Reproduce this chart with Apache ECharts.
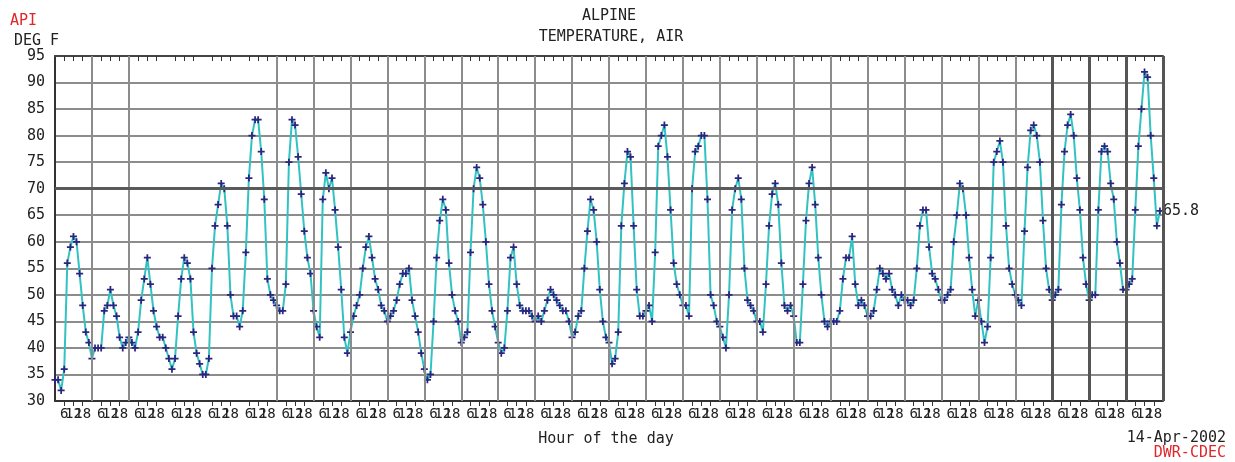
<!DOCTYPE html>
<html>
<head>
<meta charset="utf-8">
<title>ALPINE - Temperature, Air</title>
<script src="https://cdn.jsdelivr.net/npm/echarts@6/dist/echarts.min.js"></script>
<style>
  html, body { margin: 0; padding: 0; background: #fff; }
  #main { width: 1235px; height: 462px; }
</style>
</head>
<body>
<div id="main"></div>
<script>
// air temperature (deg F), one reading every 2 hours, one row per day: 00h .. 22h
const temps = [
  34, 34, 32, 36, 56, 59, 61, 60, 54, 48, 43, 41,
  38, 40, 40, 40, 47, 48, 51, 48, 46, 42, 40, 41,
  42, 41, 40, 43, 49, 53, 57, 52, 47, 44, 42, 42,
  40, 38, 36, 38, 46, 53, 57, 56, 53, 43, 39, 37,
  35, 35, 38, 55, 63, 67, 71, 70, 63, 50, 46, 46,
  44, 47, 58, 72, 80, 83, 83, 77, 68, 53, 50, 49,
  48, 47, 47, 52, 75, 83, 82, 76, 69, 62, 57, 54,
  47, 44, 42, 68, 73, 70, 72, 66, 59, 51, 42, 39,
  43, 46, 48, 50, 55, 59, 61, 57, 53, 51, 48, 47,
  45, 46, 47, 49, 52, 54, 54, 55, 49, 46, 43, 39,
  36, 34, 35, 45, 57, 64, 68, 66, 56, 50, 47, 45,
  41, 42, 43, 58, 70, 74, 72, 67, 60, 52, 47, 44,
  41, 39, 40, 47, 57, 59, 52, 48, 47, 47, 47, 46,
  45, 46, 45, 47, 49, 51, 50, 49, 48, 47, 47, 45,
  42, 43, 46, 47, 55, 62, 68, 66, 60, 51, 45, 42,
  41, 37, 38, 43, 63, 71, 77, 76, 63, 51, 46, 46,
  47, 48, 45, 58, 78, 80, 82, 76, 66, 56, 52, 50,
  48, 48, 46, 70, 77, 78, 80, 80, 68, 50, 48, 45,
  44, 42, 40, 50, 66, 70, 72, 68, 55, 49, 48, 47,
  45, 45, 43, 52, 63, 69, 71, 67, 56, 48, 47, 48,
  46, 41, 41, 52, 64, 71, 74, 67, 57, 50, 45, 44,
  45, 45, 45, 47, 53, 57, 57, 61, 52, 48, 49, 48,
  46, 46, 47, 51, 55, 54, 53, 54, 51, 50, 48, 50,
  49, 49, 48, 49, 55, 63, 66, 66, 59, 54, 53, 51,
  49, 49, 50, 51, 60, 65, 71, 70, 65, 57, 51, 46,
  49, 45, 41, 44, 57, 75, 77, 79, 75, 63, 55, 52,
  50, 49, 48, 62, 74, 81, 82, 80, 75, 64, 55, 51,
  49, 50, 51, 67, 77, 82, 84, 80, 72, 66, 57, 52,
  49, 50, 50, 66, 77, 78, 77, 71, 68, 60, 56, 51,
  51, 52, 53, 66, 78, 85, 92, 91, 80, 72, 63, 65.8
];
const stepHours = 2;
const dayCount = 30;
const hourLabels = [6, 12, 18];
const yMin = 30, yMax = 95, yStep = 5;
// day lines that are not drawn / drawn heavier in the original plot
const missingDayLines = [3, 4, 5];
const heavyDayLines = [27, 28, 29];

const MONO = '"DejaVu Sans Mono", "Liberation Mono", monospace';
const PLUS = 'path://M3,0 L5,0 L5,3 L8,3 L8,5 L5,5 L5,8 L3,8 L3,5 L0,5 L0,3 L3,3 Z';

const points = temps.map((v, i) => [i * stepHours, v]);

// hour positions of the 6 / 12 / 18 marks, all together and per label
let tickHours = [];
let hoursByLabel = hourLabels.map(() => []);
for (let d = 0; d < dayCount; d++) {
  hourLabels.forEach((h, k) => {
    tickHours.push(d * 24 + h);
    hoursByLabel[k].push(d * 24 + h);
  });
}

let dayLines = [];
for (let d = 1; d <= dayCount; d++) {
  if (missingDayLines.indexOf(d) >= 0) continue;
  let heavy = heavyDayLines.indexOf(d) >= 0 || d == dayCount;
  dayLines.push({
    xAxis: d * 24,
    lineStyle: { color: heavy ? '#555' : '#8c8c8c', width: heavy ? 3 : 2, type: 'solid' }
  });
}

// one bottom axis per label hour, so the tight 6/12/18 labels are all kept
const bottomAxes = hourLabels.map((h, k) => ({
  type: 'value',
  min: 0,
  max: dayCount * 24,
  interval: 6,
  position: 'bottom',
  offset: 0,
  axisLine: { show: k == 0, lineStyle: { color: '#333', width: 2 } },
  axisTick: { show: k == 0, customValues: tickHours, length: 5, lineStyle: { color: '#333', width: 1 } },
  axisLabel: {
    customValues: hoursByLabel[k],
    formatter: v => String(v % 24),
    fontFamily: MONO, fontSize: 14, color: '#222', margin: 6,
    hideOverlap: false, showMinLabel: true, showMaxLabel: true
  },
  splitLine: { show: false }
}));

const topAxis = {
  type: 'value',
  min: 0,
  max: dayCount * 24,
  interval: 6,
  position: 'top',
  axisLine: { show: true, lineStyle: { color: '#444', width: 2 } },
  axisTick: { show: true, inside: true, customValues: tickHours, length: 5, lineStyle: { color: '#333', width: 1 } },
  axisLabel: { show: false },
  splitLine: { show: false }
};

const chart = echarts.init(document.getElementById('main'), null, { renderer: 'canvas' });

const option = {
  animation: false,
  backgroundColor: '#fff',
  grid: { left: 55, right: 72, top: 56, bottom: 61, show: false },
  xAxis: bottomAxes.concat([topAxis]),
  yAxis: {
    type: 'value',
    min: yMin,
    max: yMax,
    interval: yStep,
    axisLine: { show: true, lineStyle: { color: '#333', width: 2 } },
    axisTick: { show: false },
    axisLabel: { fontFamily: MONO, fontSize: 15, color: '#222', margin: 10 },
    splitLine: { show: true, lineStyle: { color: '#8c8c8c', width: 2 } }
  },
  series: [{
    // grid lines only
    type: 'line',
    data: [],
    z: 1,
    silent: true,
    markLine: {
      silent: true,
      symbol: ['none', 'none'],
      label: { show: false },
      animation: false,
      data: dayLines.concat([{ yAxis: 70, lineStyle: { color: '#5a5a5a', width: 3, type: 'solid' } }])
    }
  }, {
    name: 'TEMPERATURE, AIR',
    type: 'line',
    data: points,
    z: 3,
    symbol: PLUS,
    symbolSize: 7,
    showSymbol: true,
    lineStyle: { color: '#33c2c2', width: 2 },
    itemStyle: { color: '#2b2480' },
    endLabel: {
      show: true,
      formatter: p => p.value[1].toFixed(1),
      fontFamily: MONO, fontSize: 15, color: '#222', distance: 3
    }
  }],
  graphic: [
    { type: 'text', x: 10, y: 21, style: { text: 'API', font: '15px ' + MONO, fill: '#e0262b', verticalAlign: 'middle' } },
    { type: 'text', x: 14, y: 41, style: { text: 'DEG F', font: '15px ' + MONO, fill: '#222', verticalAlign: 'middle' } },
    { type: 'text', x: 609, y: 16, style: { text: 'ALPINE', font: '15px ' + MONO, fill: '#222', align: 'center', verticalAlign: 'middle' } },
    { type: 'text', x: 611, y: 37, style: { text: 'TEMPERATURE, AIR', font: '15px ' + MONO, fill: '#222', align: 'center', verticalAlign: 'middle' } },
    { type: 'text', x: 606, y: 439, style: { text: 'Hour of the day', font: '15px ' + MONO, fill: '#222', align: 'center', verticalAlign: 'middle' } },
    { type: 'text', x: 1226, y: 438, style: { text: '14-Apr-2002', font: '15px ' + MONO, fill: '#222', align: 'right', verticalAlign: 'middle' } },
    { type: 'text', x: 1226, y: 453, style: { text: 'DWR-CDEC', font: '15px ' + MONO, fill: '#e0262b', align: 'right', verticalAlign: 'middle' } }
  ]
};

chart.setOption(option);
</script>
</body>
</html>
